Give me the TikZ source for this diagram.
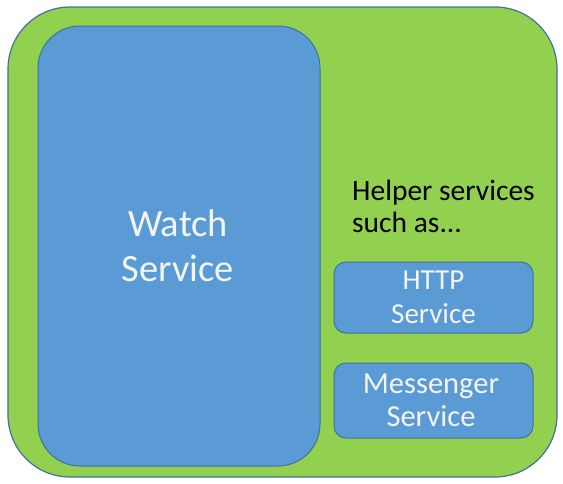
\documentclass[tikz,border=0pt]{standalone}
\usepackage{fontspec}
\setmainfont{Carlito}
\definecolor{outergreen}{HTML}{92D050}
\definecolor{boxblue}{HTML}{5B9BD5}
\definecolor{edgeblue}{HTML}{41719C}
\definecolor{lighttext}{HTML}{F4F4F4}
\begin{document}
\begin{tikzpicture}[x=1pt,y=-1pt,
  outerbox/.style={draw=edgeblue,line width=1.2pt,fill=outergreen,rounded corners=62pt},
  bigbox/.style={draw=edgeblue,line width=1pt,fill=boxblue,rounded corners=42pt},
  smallbox/.style={draw=edgeblue,line width=1pt,fill=boxblue,rounded corners=12pt},
  boxlabel/.style={text=lighttext,align=center,inner sep=0pt},
  helperlabel/.style={text=black,align=left,anchor=north west,inner sep=0pt}]
\useasboundingbox (0,0) rectangle (563,483);
\fill[white] (0,0) rectangle (563,483);
\draw[outerbox] (8,7) rectangle (557,477);
\draw[bigbox] (38,26) rectangle (320,466);
\node[boxlabel,font=\fontsize{38.5}{45}\selectfont] (watch) at (178,246) {Watch\\Service};
\node[helperlabel,font=\fontsize{29.5}{32}\selectfont] (helper) at (352,180) {Helper services\\such as...};
\draw[smallbox] (334,262) rectangle (533,333);
\node[boxlabel,font=\fontsize{29}{34}\selectfont] (http) at (433.5,297) {HTTP\\Service};
\draw[smallbox] (334,363) rectangle (533,438);
\node[boxlabel,font=\fontsize{30.5}{33}\selectfont] (messenger) at (431,400) {Messenger\\Service};
\end{tikzpicture}
\end{document}
